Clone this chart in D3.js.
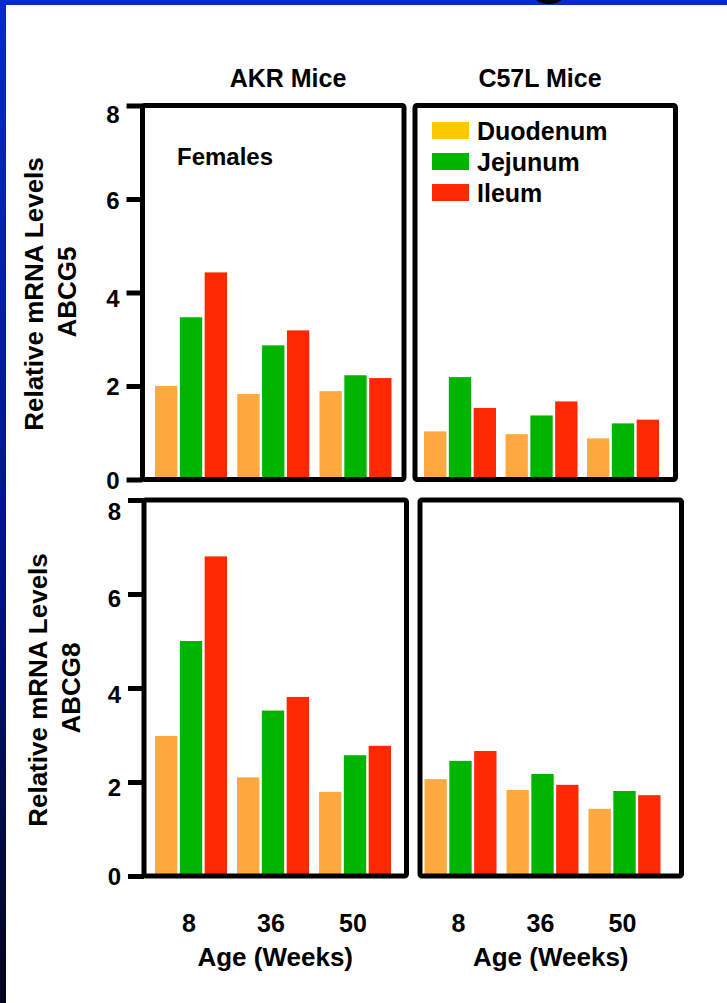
<!DOCTYPE html>
<html>
<head>
<meta charset="utf-8">
<script src="https://cdn.jsdelivr.net/npm/d3@7"></script>
<style>
  html, body { margin: 0; padding: 0; background: #fff; }
  svg { display: block; }
  text { font-family: "Liberation Sans", Arial, Helvetica, sans-serif; font-weight: bold; fill: #000; }
</style>
</head>
<body>
<svg id="chart" width="727" height="1003"></svg>
<script>
// Age groups (weeks) and intestinal segments
const ages = ["8", "36", "50"];
const tissues = ["Duodenum", "Jejunum", "Ileum"];
const barColors = ["#FFA940", "#00B400", "#FF2800"];
const legendColors = ["#FFC800", "#00B400", "#FF2800"];
const yTicks = [0, 2, 4, 6, 8];
const strains = ["AKR Mice", "C57L Mice"];
const genes = ["ABCG5", "ABCG8"];

// Relative mRNA levels, one row per age: [Duodenum, Jejunum, Ileum]
const akrAbcg5 = [[2.00, 3.47, 4.43], [1.83, 2.87, 3.19], [1.89, 2.23, 2.17]];
const c57Abcg5 = [[1.03, 2.19, 1.53], [0.97, 1.37, 1.67], [0.88, 1.20, 1.28]];
const akrAbcg8 = [[2.98, 5.00, 6.80], [2.10, 3.52, 3.81], [1.79, 2.57, 2.77]];
const c57Abcg8 = [[2.06, 2.45, 2.66], [1.83, 2.17, 1.94], [1.43, 1.81, 1.72]];

const svg = d3.select("#chart");
const W = 727, H = 1003;

// Slide background: blue strips along the top and left edges
const defs = svg.append("defs");
const grad = defs.append("linearGradient")
  .attr("id", "edgeGrad").attr("x1", 0).attr("y1", 0).attr("x2", 0).attr("y2", 1);
grad.append("stop").attr("offset", "0%").attr("stop-color", "#0629d2");
grad.append("stop").attr("offset", "50%").attr("stop-color", "#001690");
grad.append("stop").attr("offset", "100%").attr("stop-color", "#00041c");

svg.append("rect").attr("x", 0).attr("y", 0).attr("width", W).attr("height", H).attr("fill", "#fff");
svg.append("rect").attr("x", 0).attr("y", 0).attr("width", W).attr("height", 5).attr("fill", "#0629d2");
svg.append("rect").attr("x", 0).attr("y", 0).attr("width", 6).attr("height", H).attr("fill", "url(#edgeGrad)");
svg.append("ellipse").attr("cx", 549).attr("cy", -6).attr("rx", 16).attr("ry", 10).attr("fill", "#000");

// Row vertical scales (one per gene); labelShift nudges each tick label down
const rows = [
  { y: d3.scaleLinear().domain([0, 8]).range([479.5, 105.5]), gene: genes[0], titleY: 294, titleX: 43, geneX: 76,
    labelShift: { 0: 1, 2: 1, 4: 6, 6: 2, 8: 9 } },
  { y: d3.scaleLinear().domain([0, 8]).range([876, 500]), gene: genes[1], titleY: 690, titleX: 47, geneX: 80,
    labelShift: { 0: 1, 2: 6, 4: 7, 6: 5, 8: 12 } }
];

// Panel layout
const panels = [
  { vals: akrAbcg5, row: 0, x0: 142.5, x1: 404, centers: [191, 355.5], axis: true },
  { vals: c57Abcg5, row: 0, x0: 415, x1: 675.5, centers: [460, 623], axis: false },
  { vals: akrAbcg8, row: 1, x0: 144, x1: 406.5, centers: [191, 355], axis: true },
  { vals: c57Abcg8, row: 1, x0: 420, x1: 681.5, centers: [460.5, 624.5], axis: false }
];

const inner = d3.scaleBand().domain(tissues).range([-36, 36]).paddingInner(0.1);
const color = d3.scaleOrdinal().domain(tissues).range(barColors);

panels.forEach(p => {
  const row = rows[p.row];
  const y = row.y;
  const gx = d3.scalePoint().domain(ages).range(p.centers);
  const g = svg.append("g");

  const groups = g.selectAll("g.age")
    .data(ages.map((a, i) => ({ age: a, vals: p.vals[i] })))
    .join("g")
    .attr("transform", d => `translate(${gx(d.age)},0)`);

  groups.selectAll("rect")
    .data(d => tissues.map((t, j) => ({ tissue: t, v: d.vals[j] })))
    .join("rect")
    .attr("x", d => inner(d.tissue))
    .attr("width", inner.bandwidth())
    .attr("y", d => y(d.v))
    .attr("height", d => y(0) - y(d.v))
    .attr("fill", d => color(d.tissue));

  // Panel frame
  g.append("rect")
    .attr("x", p.x0).attr("y", y(8))
    .attr("width", p.x1 - p.x0).attr("height", y(0) - y(8))
    .attr("rx", 2)
    .attr("fill", "none").attr("stroke", "#000").attr("stroke-width", 5);

  if (p.axis) {
    const ax = g.append("g")
      .attr("transform", `translate(${p.x0},0)`)
      .call(d3.axisLeft(y).tickValues(yTicks).tickSize(16).tickPadding(7).tickFormat(d3.format("d")));
    ax.select(".domain").remove();
    ax.selectAll(".tick line").attr("stroke", "#000").attr("stroke-width", 5);
    ax.selectAll(".tick text")
      .attr("font-size", 24).attr("font-weight", "bold")
      .attr("font-family", "'Liberation Sans', Arial, sans-serif")
      .attr("fill", "#000")
      .attr("y", d => row.labelShift[d] || 0);
  }

  // Age labels under the lower row
  if (p.row === 1) {
    g.selectAll("text.age")
      .data(ages)
      .join("text")
      .attr("x", d => gx(d) - 2)
      .attr("y", 932)
      .attr("text-anchor", "middle")
      .attr("font-size", 25)
      .text(d => d);
    g.append("text")
      .attr("x", (p.x0 + p.x1) / 2)
      .attr("y", 966)
      .attr("text-anchor", "middle")
      .attr("font-size", 26)
      .text("Age (Weeks)");
  }
});

// Strain titles above the columns
svg.append("text").attr("x", 288).attr("y", 87).attr("text-anchor", "middle").attr("font-size", 25).text(strains[0]);
svg.append("text").attr("x", 540).attr("y", 87).attr("text-anchor", "middle").attr("font-size", 25).text(strains[1]);

// Y-axis titles
rows.forEach(r => {
  svg.append("text")
    .attr("transform", `translate(${r.titleX},${r.titleY}) rotate(-90)`)
    .attr("text-anchor", "middle").attr("font-size", 26)
    .text("Relative mRNA Levels");
  svg.append("text")
    .attr("transform", `translate(${r.geneX},${r.titleY - 2}) rotate(-90)`)
    .attr("text-anchor", "middle").attr("font-size", 26)
    .text(r.gene);
});

// Sex annotation
svg.append("text").attr("x", 177).attr("y", 165).attr("font-size", 24).text("Females");

// Legend
const legend = svg.append("g").attr("transform", "translate(432,122)");
const li = legend.selectAll("g")
  .data(tissues)
  .join("g")
  .attr("transform", (d, i) => `translate(0,${i * 31})`);
li.append("rect").attr("width", 37).attr("height", 17).attr("fill", (d, i) => legendColors[i]);
li.append("text").attr("x", 45).attr("y", 18).attr("font-size", 25).text(d => d);
</script>
</body>
</html>
